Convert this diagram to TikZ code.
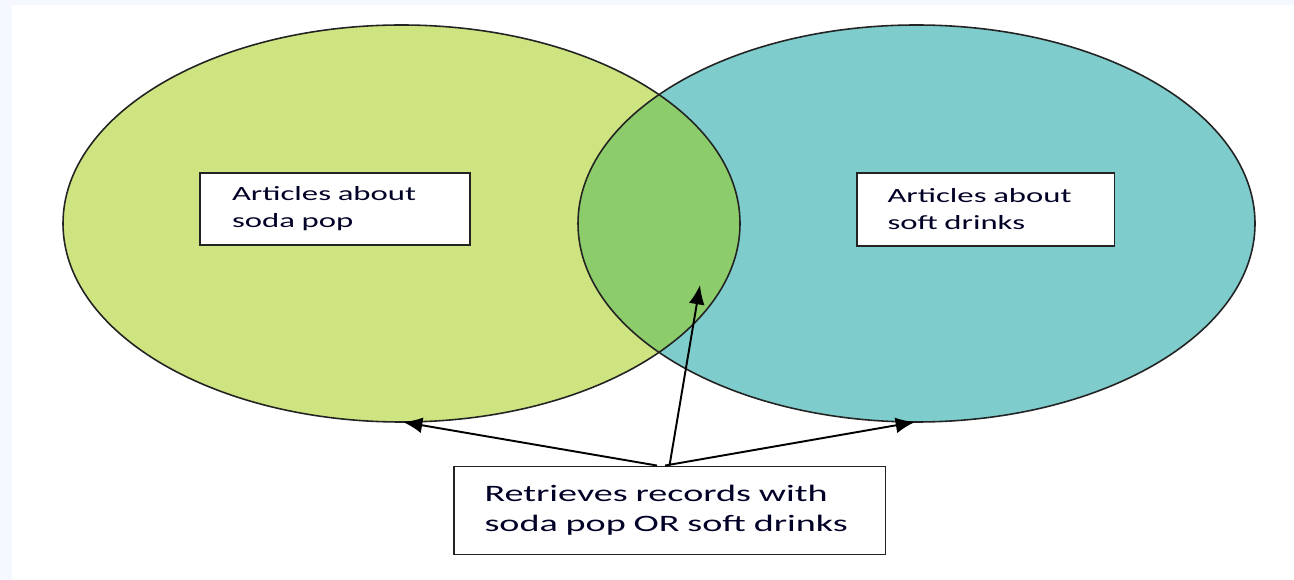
\documentclass[tikz,border=0pt]{standalone}
\usepackage{fontspec}
\setmainfont{Carlito}[FakeStretch=1.62]
\usepackage{tikz}
\usetikzlibrary{arrows.meta}
\definecolor{sodagreen}{RGB}{205,228,128}
\definecolor{softteal}{RGB}{126,204,204}
\definecolor{bothgreen}{RGB}{140,204,106}
\definecolor{pagetint}{RGB}{245,248,254}
\definecolor{inkgray}{RGB}{35,35,35}
\tikzset{setbox/.style = {draw = inkgray, line width = 1.1pt, fill = white,
                          align = left, inner ysep = 0pt, text = black!85!blue,
                          font = \fontsize{11.5}{15.4}\selectfont}}
\tikzset{pointer/.style = {-{Latex[length=11pt, width=9pt]}, line width = 1.1pt}}
\tikzset{rim/.style = {draw = inkgray, line width = 0.9pt}}

\begin{document}
\begin{tikzpicture}[x=0.02cm, y=-0.02cm]
    \useasboundingbox (0, 0) rectangle (1294, 580);
    \fill [pagetint] (0, 0) rectangle (1294, 580);
    \fill [white] (12, 5) rectangle (1294, 580);

    % the two sets and their overlap
    \coordinate (soda) at (401.5, 223.5);
    \coordinate (soft) at (916.5, 223.5);
    \fill [sodagreen] (soda) ellipse [x radius = 338.5, y radius = 198.5];
    \fill [softteal] (soft) ellipse [x radius = 338.5, y radius = 198.5];
    \begin{scope}
      \clip (soda) ellipse [x radius = 338.5, y radius = 198.5];
      \fill [bothgreen] (soft) ellipse [x radius = 338.5, y radius = 198.5];
    \end{scope}
    \draw [rim] (soda) ellipse [x radius = 338.5, y radius = 198.5];
    \draw [rim] (soft) ellipse [x radius = 338.5, y radius = 198.5];

    \node [setbox, text width = 4.12cm, inner xsep = 0.64cm, minimum height = 1.44cm]
      (sodalabel) at (335, 209) {Articles about\\soda pop};
    \node [setbox, text width = 3.92cm, inner xsep = 0.62cm, minimum height = 1.46cm]
      (softlabel) at (985.5, 209.5) {Articles about\\soft drinks};
    \node [setbox, text width = 7.4cm, inner xsep = 0.62cm, minimum height = 1.76cm,
           font = \fontsize{13.4}{17.1}\selectfont]
      (query) at (669.5, 510.5) {Retrieves records with\\soda pop OR soft drinks};

    \coordinate (sodaend) at (403, 422);
    \coordinate (softend) at (915, 422);
    \coordinate (bothend) at (700, 285);
    \draw [pointer] ([xshift = -0.25cm] query.north) -- (sodaend);
    \draw [pointer] ([xshift = -0.09cm] query.north) -- (softend);
    \draw [pointer] (query.north) -- (bothend);
  \end{tikzpicture}
\end{document}
